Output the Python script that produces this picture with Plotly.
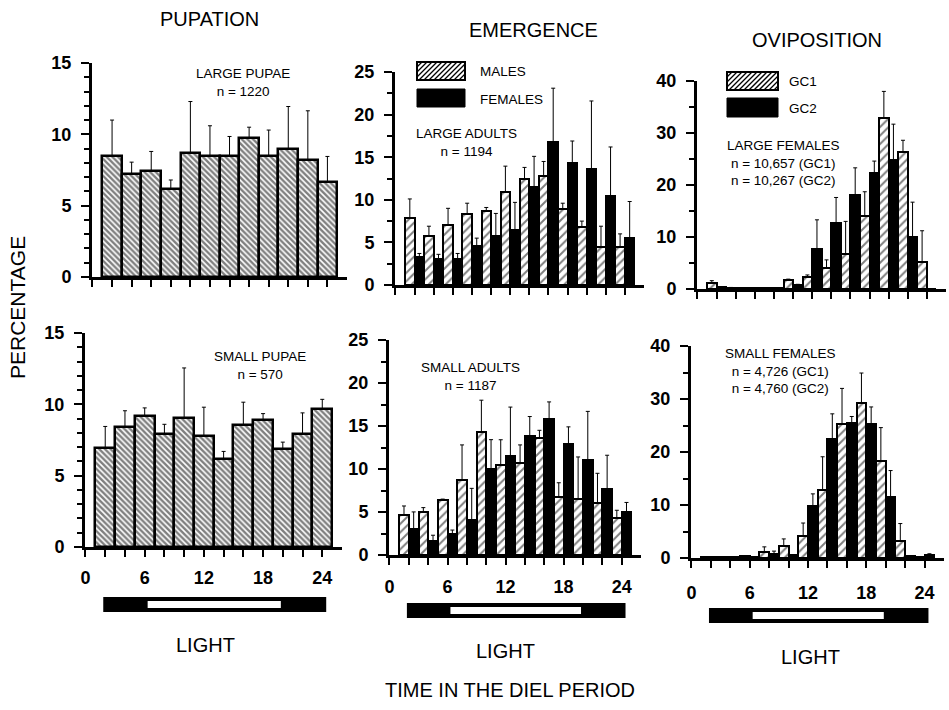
import plotly.graph_objects as go

W, H = 949, 710

# ---------------- data ----------------
hours = [2, 4, 6, 8, 10, 12, 14, 16, 18, 20, 22, 24]
hour_labels = [0, 6, 12, 18, 24]
minor_hours = [2, 4, 8, 10, 14, 16, 20, 22]
light_on, light_off = 6.3, 19.8          # white (light) part of the photoperiod bar
period_start, period_end = 1.8, 24.4      # black (dark) bar extent

large_pupae = [8.5, 7.2, 7.45, 6.2, 8.7, 8.5, 8.45, 9.75, 8.45, 9.0, 8.2, 6.65]
large_pupae_err = [2.5, 0.85, 1.35, 0.6, 3.6, 2.1, 1.4, 0.75, 1.85, 2.95, 3.45, 1.8]
small_pupae = [6.95, 8.4, 9.15, 7.95, 9.05, 7.8, 6.2, 8.55, 8.9, 6.9, 7.95, 9.65]
small_pupae_err = [1.5, 1.15, 0.6, 0.65, 3.5, 2.0, 0.5, 1.6, 0.45, 0.45, 1.45, 0.7]

large_males = [7.85, 5.8, 7.0, 8.3, 8.7, 10.9, 12.5, 12.8, 8.9, 6.8, 4.5, 4.5]
large_males_err = [2.25, 1.1, 2.0, 1.3, 0.4, 3.05, 1.3, 1.7, 0.7, 0.7, 2.4, 1.5]
large_females = [3.3, 3.05, 3.05, 4.6, 5.8, 6.5, 11.55, 16.8, 14.3, 13.6, 10.5, 5.5]
large_females_err = [0.4, 0.55, 0.65, 0.9, 2.6, 3.2, 3.55, 6.3, 2.6, 8.0, 5.7, 4.3]
small_males = [4.65, 4.96, 6.4, 8.7, 14.3, 10.5, 10.7, 13.6, 6.8, 6.5, 6.1, 4.3]
small_males_err = [1.05, 0.55, 0.1, 4.1, 3.7, 2.9, 2.1, 0.9, 1.6, 4.9, 3.4, 0.9]
small_females = [3.06, 1.6, 2.5, 4.1, 9.96, 11.55, 13.8, 15.8, 12.9, 11.05, 7.7, 4.96]
small_females_err = [1.95, 0.7, 0.4, 3.65, 3.45, 5.65, 2.3, 2.0, 2.0, 5.65, 3.9, 1.15]

large_gc1 = [1.15, 0.2, 0.1, 0.1, 1.7, 2.4, 4.0, 6.7, 14.1, 32.9, 26.3, 5.1]
large_gc1_err = [0.45, 0.1, 0.0, 0.0, 0.2, 0.3, 1.6, 6.3, 4.6, 5.1, 2.3, 6.1]
large_gc2 = [0.3, 0.1, 0.1, 0.2, 0.8, 7.6, 12.7, 18.1, 22.3, 24.9, 10.0, 0.0]
large_gc2_err = [0.0, 0.0, 0.0, 0.0, 0.1, 5.7, 4.9, 5.2, 2.3, 6.8, 6.7, 0.0]
small_gc1 = [0.2, 0.1, 0.4, 1.2, 2.3, 4.1, 12.8, 25.3, 29.3, 18.3, 3.3, 0.2]
small_gc1_err = [0.0, 0.0, 0.0, 0.9, 1.3, 2.5, 6.3, 6.7, 5.6, 6.3, 3.2, 0.0]
small_gc2 = [0.1, 0.1, 0.2, 0.7, 0.6, 9.9, 22.5, 25.5, 25.2, 11.5, 0.3, 0.5]
small_gc2_err = [0.0, 0.0, 0.0, 0.6, 0.0, 2.2, 4.7, 1.2, 3.3, 5.0, 0.0, 0.3]

# ---------------- helpers ----------------
FONT = "Liberation Sans, Arial, Helvetica, sans-serif"


def px(x):
    return x / W


def py(y):
    return 1 - y / H


def errs(e):
    return dict(type="data", array=e, arrayminus=[0] * len(e), symmetric=False,
                color="black", thickness=1, width=2)


dense_hatch = dict(shape="\\", fgcolor="black", bgcolor="white", size=4, solidity=0.6)
open_hatch = dict(shape="/", fgcolor="black", bgcolor="white", size=6, solidity=0.33)

fig = go.Figure()


def hatched_bar(vals, err, axis, name, pattern, lw=2):
    fig.add_trace(go.Bar(x=hours, y=vals, error_y=errs(err), name=name,
                         xaxis="x" + axis, yaxis="y" + axis, showlegend=False,
                         marker=dict(color="white", line=dict(color="black", width=lw),
                                     pattern=pattern)))


def black_bar(vals, err, axis, name):
    fig.add_trace(go.Bar(x=hours, y=vals, error_y=errs(err), name=name,
                         xaxis="x" + axis, yaxis="y" + axis, showlegend=False,
                         marker=dict(color="black", line=dict(color="black", width=2))))


hatched_bar(large_pupae, large_pupae_err, "", "Large pupae", dense_hatch, 2.5)
hatched_bar(large_males, large_males_err, "2", "MALES", open_hatch)
black_bar(large_females, large_females_err, "2", "FEMALES")
hatched_bar(large_gc1, large_gc1_err, "3", "GC1", open_hatch)
black_bar(large_gc2, large_gc2_err, "3", "GC2")
hatched_bar(small_pupae, small_pupae_err, "4", "Small pupae", dense_hatch, 2.5)
hatched_bar(small_males, small_males_err, "5", "MALES", open_hatch)
black_bar(small_females, small_females_err, "5", "FEMALES")
hatched_bar(small_gc1, small_gc1_err, "6", "GC1", open_hatch)
black_bar(small_gc2, small_gc2_err, "6", "GC2")

# panel geometry in pixels: (x_left, x_right, y_top, y_bottom, ymax, major, minor, label standoff)
panels = {
    "": (92, 347, 63, 277, 15, 5, 1, 6),
    "2": (395, 644, 72, 285, 25, 5, 2.5, 6),
    "3": (697, 946, 81, 289, 40, 10, 5, 6),
    "4": (85, 342, 333, 547, 15, 5, 1, 5),
    "5": (389, 641, 340, 555, 25, 5, 2.5, 6),
    "6": (691, 944, 346, 558, 40, 10, 5, 9),
}

layout = dict(width=W, height=H, margin=dict(l=0, r=0, t=0, b=0, autoexpand=False),
              paper_bgcolor="white", plot_bgcolor="white",
              barmode="group", bargap=0, bargroupgap=0, showlegend=False,
              font=dict(family=FONT, color="black"))

for key, (x0, x1, yt, yb, ymax, major, minor, stand) in panels.items():
    bottom = key in ("4", "5", "6")
    layout["xaxis" + key] = dict(
        domain=[px(x0), px(x1)], anchor="y" + key, range=[-0.05, 26],
        automargin=False,
        showline=True, linewidth=3, linecolor="black", mirror=False,
        showgrid=False, zeroline=False,
        tickmode="array", tickvals=hour_labels, ticktext=[str(h) for h in hour_labels],
        ticks="outside", ticklen=7, tickwidth=2, tickcolor="black",
        minor=dict(tickmode="array", tickvals=minor_hours, ticks="outside",
                   ticklen=7, tickwidth=2, tickcolor="black", showgrid=False),
        showticklabels=bottom, ticklabelstandoff=stand,
        tickfont=dict(family=FONT, size=18, weight="bold", color="black"),
    )
    layout["yaxis" + key] = dict(
        domain=[py(yb), py(yt)], anchor="x" + key, range=[0, ymax],
        automargin=False,
        showline=True, linewidth=3, linecolor="black",
        showgrid=False, zeroline=False,
        dtick=major, tick0=0, ticks="outside", ticklen=8, tickwidth=2, tickcolor="black",
        minor=dict(dtick=minor, tick0=0, ticks="outside", ticklen=5, tickwidth=2,
                   tickcolor="black", showgrid=False),
        ticklabelstandoff=6,
        tickfont=dict(family=FONT, size=18, weight="bold", color="black"),
    )

fig.update_layout(**layout)

shapes = []
annotations = []


def text(x, y, s, size, bold=False, xanchor="center", angle=0):
    annotations.append(dict(x=px(x), y=py(y), xref="paper", yref="paper", text=s,
                            showarrow=False, xanchor=xanchor, yanchor="middle",
                            textangle=angle,
                            font=dict(family=FONT, size=size, color="black",
                                      weight="bold" if bold else "normal")))


# column titles and axis titles
text(209, 19, "PUPATION", 20)
text(533, 30, "EMERGENCE", 20)
text(817, 40, "OVIPOSITION", 20)
text(17, 308, "PERCENTAGE", 21, angle=-90)
text(510, 690, "TIME IN THE DIEL PERIOD", 20)

# panel notes
text(243, 83, "LARGE PUPAE<br>n = 1220", 13.5)
text(260, 365, "SMALL PUPAE<br>n = 570", 13.5)
text(466, 143, "LARGE ADULTS<br>n = 1194", 13.5)
text(470, 376, "SMALL ADULTS<br>n = 1187", 13.5)
text(783, 163, "LARGE FEMALES<br>n = 10,657 (GC1)<br>n = 10,267 (GC2)", 13.5)
text(780, 371, "SMALL FEMALES<br>n = 4,726 (GC1)<br>n = 4,760 (GC2)", 13.5)


# legends (drawn as swatches + labels)
def hatched_box(x0, y0, x1, y1, spacing=5):
    shapes.append(dict(type="rect", xref="paper", yref="paper", x0=px(x0), x1=px(x1),
                       y0=py(y1), y1=py(y0), fillcolor="white",
                       line=dict(color="black", width=2)))
    h = y1 - y0
    t = x0 - h
    while t < x1:
        umin = max(0.0, (x0 - t) / h)
        umax = min(1.0, (x1 - t) / h)
        if umax > umin:
            xa, ya = t + umin * h, y1 - umin * h
            xb, yb = t + umax * h, y1 - umax * h
            shapes.append(dict(type="line", xref="paper", yref="paper",
                               x0=px(xa), y0=py(ya), x1=px(xb), y1=py(yb),
                               line=dict(color="black", width=1.3)))
        t += spacing


def black_box(x0, y0, x1, y1):
    shapes.append(dict(type="rect", xref="paper", yref="paper", x0=px(x0), x1=px(x1),
                       y0=py(y1), y1=py(y0), fillcolor="black",
                       line=dict(color="black", width=1)))


hatched_box(417, 62, 465, 80)
black_box(417, 89, 465, 107)
text(478, 72, "MALES", 13.5, xanchor="left")
text(478, 99, "FEMALES", 13.5, xanchor="left")
hatched_box(727, 72, 778, 90)
black_box(727, 98, 778, 117)
text(787, 82, "GC1", 13.5, xanchor="left")
text(787, 108, "GC2", 13.5, xanchor="left")

# photoperiod bars under the bottom panels
light_rows = {"4": (597, 612, 205, 645), "5": (603, 618, 505, 651), "6": (608, 623, 810, 657)}
for key, (yt, yb, lx, ly) in light_rows.items():
    shapes.append(dict(type="rect", xref="x" + key, yref="paper",
                       x0=period_start, x1=period_end, y0=py(yb), y1=py(yt),
                       fillcolor="black", line=dict(width=0)))
    mid = (yt + yb) / 2
    shapes.append(dict(type="rect", xref="x" + key, yref="paper",
                       x0=light_on, x1=light_off, y0=py(mid + 3.5), y1=py(mid - 3.5),
                       fillcolor="white", line=dict(width=0)))
    text(lx, ly, "LIGHT", 20)

fig.update_layout(shapes=shapes, annotations=annotations)
fig.write_html("out.html", config={"displayModeBar": False},
               post_script="document.body.style.margin='0px';")
